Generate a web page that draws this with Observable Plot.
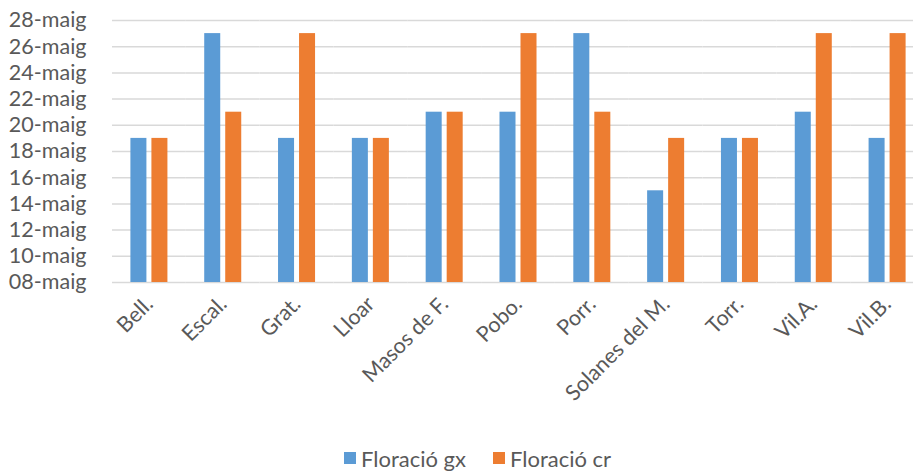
<!DOCTYPE html>
<html>
<head>
<meta charset="utf-8">
<script src="https://cdn.jsdelivr.net/npm/d3@7"></script>
<script src="https://cdn.jsdelivr.net/npm/@observablehq/plot@0.6"></script>
<style>
  html, body { margin: 0; padding: 0; background: #fff; overflow: hidden; width: 913px; height: 472px; }
  #chart svg { display: block; max-width: none !important; }
  #legend { position: absolute; left: 0; top: 446px; width: 913px; height: 24px; font-family: Lato, sans-serif; font-size: 22px; color: #595959; }
  .item { position: absolute; top: 0; display: flex; align-items: center; height: 24px; }
  .sw { width: 12px; height: 12px; margin-right: 5px; }
</style>
</head>
<body>
<div id="chart"></div>
<div id="legend"></div>
<script>
const categories = ["Bell.", "Escal.", "Grat.", "Lloar", "Masos de F.", "Pobo.", "Porr.", "Solanes del M.", "Torr.", "Vil.A.", "Vil.B."];
const seriesNames = ["Floració gx", "Floració cr"];
const seriesColors = ["#5B9BD5", "#ED7D31"];
// day of May
const floracioGx = [19, 27, 19, 19, 21, 21, 27, 15, 19, 21, 19];
const floracioCr = [19, 21, 27, 19, 21, 27, 21, 19, 19, 27, 27];
const yTicks = [8, 10, 12, 14, 16, 18, 20, 22, 24, 26, 28];
const yTickLabels = ["08-maig", "10-maig", "12-maig", "14-maig", "16-maig", "18-maig", "20-maig", "22-maig", "24-maig", "26-maig", "28-maig"];
const baseDay = 8;

const data = [];
categories.forEach((c, i) => {
  data.push({cat: c, series: seriesNames[0], day: floracioGx[i]});
  data.push({cat: c, series: seriesNames[1], day: floracioCr[i]});
});

const chart = Plot.plot({
  width: 924,
  height: 440,
  marginLeft: 112,
  marginRight: 0,
  marginTop: 20,
  marginBottom: 158,
  style: {fontFamily: "Lato, sans-serif", fontSize: "21.5px", color: "#595959", background: "#fff", maxWidth: "none"},
  fx: {domain: categories, padding: 0, round: false, label: null, tickRotate: -45, tickSize: 0, tickPadding: 18, fontSize: 23, dx: 8},
  x: {domain: seriesNames, axis: null, round: false, paddingInner: 0.238, paddingOuter: 0.876},
  y: {domain: [8, 28], ticks: yTicks, tickFormat: d => yTickLabels[yTicks.indexOf(d)], label: null, tickSize: 0, tickPadding: 26},
  color: {domain: seriesNames, range: seriesColors},
  marks: [
    Plot.ruleY(yTicks, {stroke: "#d9d9d9", strokeWidth: 1.5}),
    Plot.barY(data, {fx: "cat", x: "series", y1: baseDay, y2: "day", fill: "series"})
  ]
});
document.getElementById("chart").appendChild(chart);

const legend = document.getElementById("legend");
const lefts = [344, 493];
seriesNames.forEach((s, i) => {
  const it = document.createElement("div");
  it.className = "item";
  it.style.left = lefts[i] + "px";
  it.innerHTML = `<span class="sw" style="background:${seriesColors[i]}"></span><span>${s}</span>`;
  legend.appendChild(it);
});
</script>
</body>
</html>
